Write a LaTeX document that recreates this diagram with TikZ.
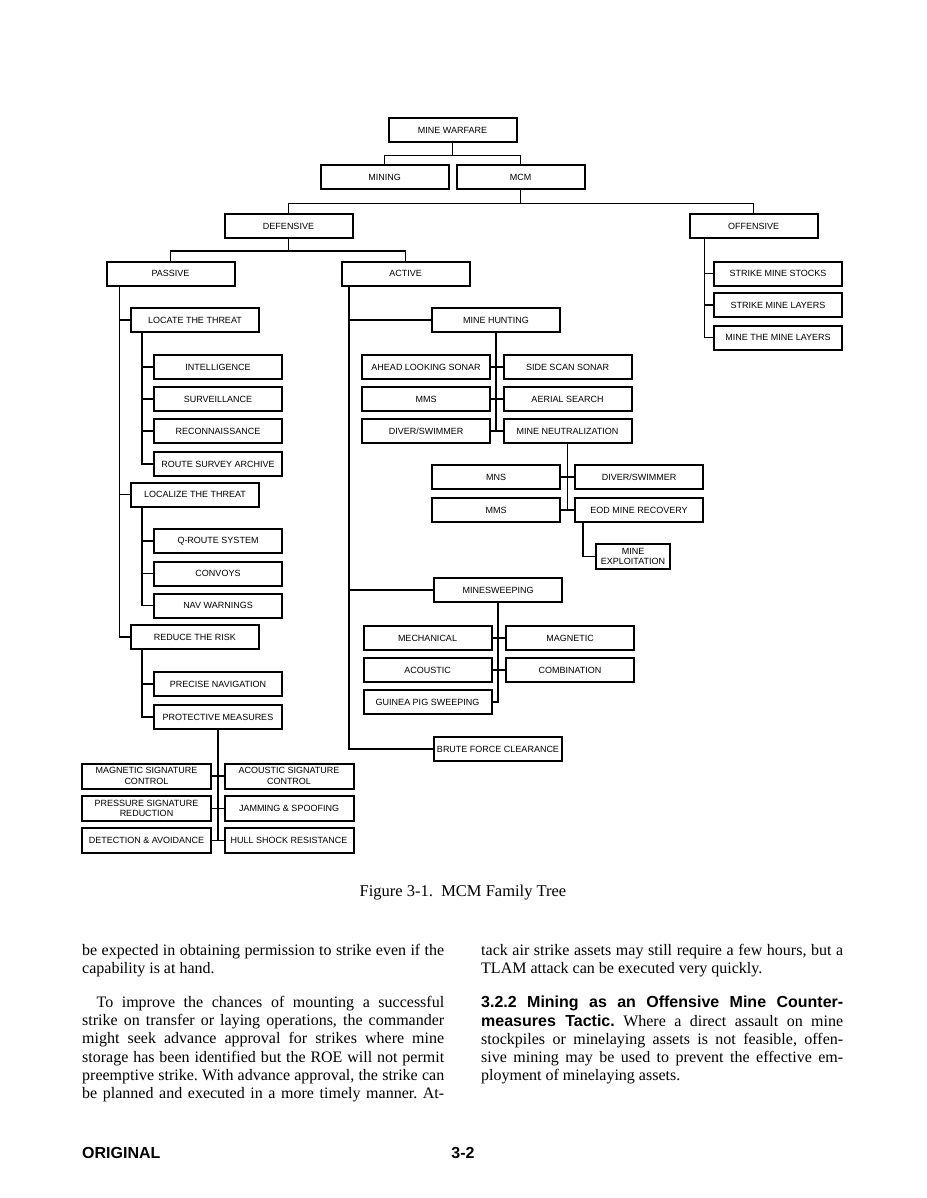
\documentclass[tikz,border=0pt]{standalone}
\usepackage{fontspec}
\setmainfont{Liberation Serif}
\setsansfont{Liberation Sans}
\usepackage{tikz}

\newlength\colw
\setlength\colw{362pt}
\newcommand\jline[1]{\makebox[\colw][s]{#1}}

\begin{document}
\begin{tikzpicture}[x=1pt,y=-1pt,
    box/.style={draw,line width=2pt,minimum width=128pt,minimum height=24pt,
      inner sep=1pt,align=center,font=\sffamily\fontsize{9}{10.5}\selectfont},
    wide/.style={box,minimum width=129pt,minimum height=25pt},
    link/.style={line width=1.8pt},
    body/.style={anchor=north west,inner sep=0pt,align=left,
      font=\rmfamily\fontsize{16}{18.2}\selectfont\frenchspacing}]
  \useasboundingbox (0,0) rectangle (926,1198);
  \fill[white] (0,0) rectangle (926,1198);
  % upper levels
  \foreach \n/\x/\y/\t in {mw/452.5/130.5/MINE WARFARE, mining/384.5/177.5/MINING,
      mcm/520.5/177.5/MCM, def/288.5/226/DEFENSIVE, off/753.5/226/OFFENSIVE,
      passive/170.5/273.5/PASSIVE, active/405.5/273.5/ACTIVE}
    \node[box] (\n) at (\x,\y) {\t};
  % offensive
  \foreach \n/\y/\t in {stocks/273.5/STRIKE MINE STOCKS, layers/305/STRIKE MINE LAYERS,
      minelay/337.5/MINE THE MINE LAYERS}
    \node[box] (\n) at (778,\y) {\t};
  % passive
  \foreach \n/\y/\t in {locate/320/LOCATE THE THREAT, localize/494.5/LOCALIZE THE THREAT,
      reduce/637/REDUCE THE RISK}
    \node[box] (\n) at (195,\y) {\t};
  \foreach \n/\y/\t in {intel/367/INTELLIGENCE, surv/399/SURVEILLANCE,
      recon/431/RECONNAISSANCE, archive/464/ROUTE SURVEY ARCHIVE,
      qroute/541/Q-ROUTE SYSTEM, convoys/573.5/CONVOYS, navwarn/605.5/NAV WARNINGS,
      precise/684/PRECISE NAVIGATION, protect/717/PROTECTIVE MEASURES}
    \node[box] (\n) at (218,\y) {\t};
  \foreach \n/\x/\y/\t in {magsig/146.5/776/{MAGNETIC SIGNATURE\\CONTROL},
      acsig/289/776/{ACOUSTIC SIGNATURE\\CONTROL},
      pressig/146.5/808.5/{PRESSURE SIGNATURE\\REDUCTION},
      jam/289/808.5/{JAMMING \& SPOOFING},
      detect/146.5/840.5/{DETECTION \& AVOIDANCE},
      hull/289/840.5/{HULL SHOCK RESISTANCE}}
    \node[wide] (\n) at (\x,\y) {\t};
  % active
  \foreach \n/\x/\y/\t in {hunt/496/320/MINE HUNTING,
      als/426/367/AHEAD LOOKING SONAR, sss/567.5/367/SIDE SCAN SONAR,
      mms/426/399/MMS, aerial/567.5/399/AERIAL SEARCH,
      diver/426/431/{DIVER/SWIMMER}, neut/567.5/431/MINE NEUTRALIZATION,
      mns/496/477/MNS, diver2/639/477/{DIVER/SWIMMER},
      mms2/496/510/MMS, eod/639/510/EOD MINE RECOVERY,
      sweep/498/590/MINESWEEPING,
      mech/427.5/638/MECHANICAL, magn/570/638/MAGNETIC,
      acou/427.5/670/ACOUSTIC, comb/570/670/COMBINATION,
      guinea/427.5/702/GUINEA PIG SWEEPING,
      brute/498/749/BRUTE FORCE CLEARANCE}
    \node[box] (\n) at (\x,\y) {\t};
  \node[box,minimum width=74pt,minimum height=25pt] (exploit) at (633,556.5) {MINE\\EXPLOITATION};

  % connectors
  \draw[link] (mw.south) -- ++(0,12) -| (mining.north);
  \draw[link] (mw.south) -- ++(0,12) -| (mcm.north);
  \draw[link] (mcm.south) -- ++(0,13) -| (def.north);
  \draw[link] (mcm.south) -- ++(0,13) -| (off.north);
  \draw[link] (def.south) -- ++(0,12) -| (passive.north);
  \draw[link] (def.south) -- ++(0,12) -| (active.north);
  \foreach \c in {stocks,layers,minelay}
    \draw[link] ([xshift=16pt]off.south west) |- (\c.west);
  \foreach \c in {locate,localize,reduce}
    \draw[link] ([xshift=14pt]passive.south west) |- (\c.west);
  \foreach \c in {intel,surv,recon,archive}
    \draw[link] ([xshift=12pt]locate.south west) |- (\c.west);
  \foreach \c in {qroute,convoys,navwarn}
    \draw[link] ([xshift=12pt]localize.south west) |- (\c.west);
  \foreach \c in {precise,protect}
    \draw[link] ([xshift=12pt]reduce.south west) |- (\c.west);
  \draw[link] (protect.south) -- (protect.south |- detect.east);
  \foreach \l/\r in {magsig/acsig,pressig/jam,detect/hull}
    \draw[link] (\l.east) -- (\r.west);
  \foreach \c in {hunt,sweep,brute}
    \draw[link] ([xshift=8.5pt]active.south west) |- (\c.west);
  \draw[link] (hunt.south) -- (hunt.south |- diver.east);
  \foreach \l/\r in {als/sss,mms/aerial,diver/neut}
    \draw[link] (\l.east) -- (\r.west);
  \draw[link] (neut.south) -- (neut.south |- mms2.east);
  \foreach \l/\r in {mns/diver2,mms2/eod}
    \draw[link] (\l.east) -- (\r.west);
  \draw[link] ([xshift=9pt]eod.south west) |- (exploit.west);
  \draw[link] (sweep.south) |- (guinea.east);
  \foreach \l/\r in {mech/magn,acou/comb}
    \draw[link] (\l.east) -- (\r.west);

  % caption, text and footer
  \node[font=\rmfamily\fontsize{16.5}{18}\selectfont] (cap) at (463,893)
    {Figure 3-1.\ \ MCM Family Tree};
  \node[body] (para1) at (82,944) {\jline{be expected in obtaining permission to strike even if the}\\
    capability is at hand.};
  \node[body] (para2) at (82,996) {\jline{\hspace*{0.9em}To improve the chances of mounting a successful}\\
    \jline{strike on transfer or laying operations, the commander}\\
    \jline{might seek advance approval for strikes where mine}\\
    \jline{storage has been identified but the ROE will not permit}\\
    \jline{preemptive strike. With advance approval, the strike can}\\
    \jline{be planned and executed in a more timely manner. At-}};
  \node[body] (para3) at (481,944) {\jline{tack air strike assets may still require a few hours, but a}\\
    TLAM attack can be executed very quickly.};
  \node[body] (para4) at (481,996) {\jline{\textsf{\bfseries 3.2.2 Mining as an Offensive Mine Counter-}}\\
    \jline{\textsf{\bfseries measures Tactic.} Where a direct assault on mine}\\
    \jline{stockpiles or minelaying assets is not feasible, offen-}\\
    \jline{sive mining may be used to prevent the effective em-}\\
    ployment of minelaying assets.};
  \node[anchor=west,inner sep=0pt,font=\sffamily\bfseries\fontsize{16}{18}\selectfont] (orig) at (82,1153) {ORIGINAL};
  \node[inner sep=0pt,font=\sffamily\bfseries\fontsize{16}{18}\selectfont] (pageno) at (463,1153) {3-2};
\end{tikzpicture}
\end{document}
